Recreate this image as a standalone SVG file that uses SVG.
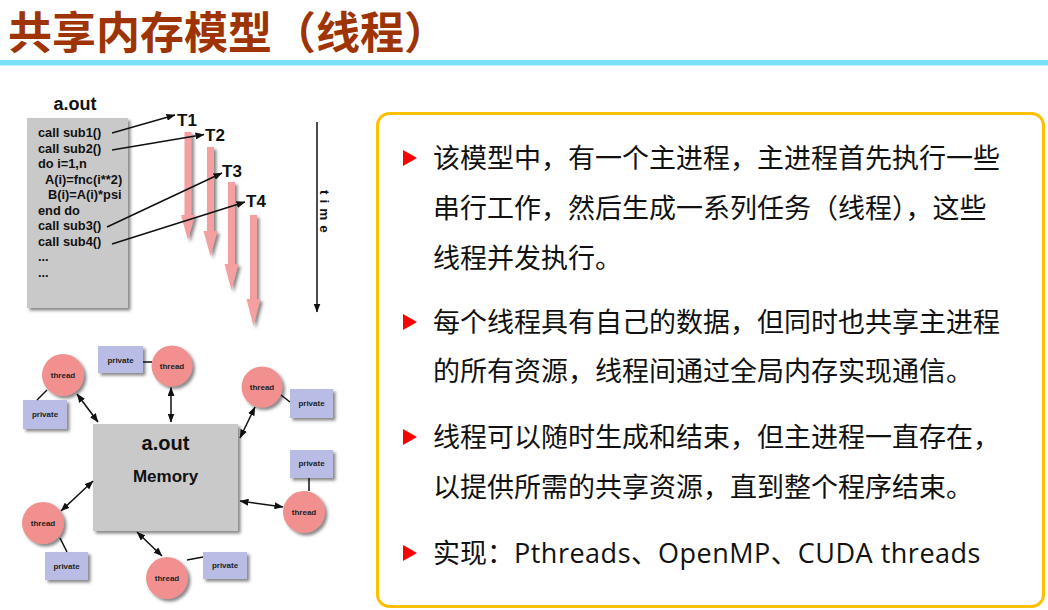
<svg xmlns="http://www.w3.org/2000/svg" width="1048" height="610" viewBox="0 0 1048 610">
  <defs>
    <style>
      .title { font-family: "Noto Sans CJK SC", "Liberation Sans", sans-serif; font-weight: 700; font-size: 44px; fill: #9E3404; }
      .body { font-family: "Noto Sans CJK SC", "Liberation Sans", sans-serif; font-size: 27px; fill: #111; }
      .latin { font-family: "Open Sans", "Noto Sans CJK SC", sans-serif; letter-spacing: 0.5px; }
      .code { font-family: "Liberation Sans", Arial, sans-serif; font-weight: 700; font-size: 12.8px; fill: #111; }
      .lbl { font-family: "Liberation Sans", Arial, sans-serif; font-weight: 700; fill: #111; }
      .tiny { font-family: "Liberation Sans", Arial, sans-serif; font-weight: 700; font-size: 8px; fill: #222; text-anchor: middle; }
      .gray { fill: #C9C9C9; }
      .thread { fill: #F29090; }
      .priv { fill: #B9BDE6; }
      .pink { fill: #F4A0A0; }
      .wire { stroke: #111; stroke-width: 1.5; fill: none; }
      .bullet { fill: #FF0000; }
    </style>
    <filter id="shadow" x="-20%" y="-20%" width="150%" height="150%">
      <feDropShadow dx="2.5" dy="2.5" stdDeviation="1.5" flood-color="#555" flood-opacity="0.7"/>
    </filter>
    <marker id="ah" markerUnits="userSpaceOnUse" markerWidth="9" markerHeight="7" refX="8.5" refY="3.5" orient="auto-start-reverse">
      <path d="M0,0 L9,3.5 L0,7 Z" fill="#111"/>
    </marker>
  </defs>

  <rect width="1048" height="610" fill="#FFFFFF"/>

  <!-- heading -->
  <text class="title" x="8" y="49">共享内存模型（线程）</text>
  <rect x="0" y="60" width="1048" height="5.5" fill="#7BE0FB"/>

  <!-- program listing -->
  <g id="program">
    <text class="lbl" x="75" y="110" font-size="18" text-anchor="middle">a.out</text>
    <rect class="gray" x="27" y="118" width="101" height="190" filter="url(#shadow)"/>
    <text class="code" x="38" y="137">call sub1()</text>
    <text class="code" x="38" y="152.5">call sub2()</text>
    <text class="code" x="38" y="168">do i=1,n</text>
    <text class="code" x="45" y="183.5">A(i)=fnc(i**2)</text>
    <text class="code" x="48" y="199">B(i)=A(i)*psi</text>
    <text class="code" x="38" y="214.5">end do</text>
    <text class="code" x="38" y="230">call sub3()</text>
    <text class="code" x="38" y="245.5">call sub4()</text>
    <text class="code" x="38" y="261">...</text>
    <text class="code" x="38" y="277">...</text>
  </g>

  <!-- thread labels -->
  <g id="t1"><text class="lbl" x="177" y="126" font-size="17">T1</text></g>
  <g id="t2"><text class="lbl" x="205" y="141" font-size="17">T2</text></g>
  <g id="t3"><text class="lbl" x="222" y="177" font-size="17">T3</text></g>
  <g id="t4"><text class="lbl" x="246" y="207" font-size="17">T4</text></g>

  <!-- thread lifetimes -->
  <g id="lifetimes" class="pink" filter="url(#shadow)">
    <path d="M184.5,132 H191.5 V215 H195 L188,240 L181,215 H184.5 Z"/>
    <path d="M207,147 H214 V231 H217.5 L210.5,256 L203.5,231 H207 Z"/>
    <path d="M228,182 H235 V264 H238.5 L231.5,290 L224.5,264 H228 Z"/>
    <path d="M250,215 H257 V299 H260.5 L253.5,326 L246.5,299 H250 Z"/>
  </g>

  <!-- time axis -->
  <g id="time">
    <text class="lbl" font-size="13.5" font-weight="400" letter-spacing="5" transform="translate(320,190) rotate(90)">time</text>
  </g>

  <!-- shared memory -->
  <g id="memory">
    <rect class="gray" x="93" y="424" width="145" height="107" filter="url(#shadow)"/>
    <text class="lbl" x="165.5" y="450" font-size="20" text-anchor="middle">a.out</text>
    <text class="lbl" x="165.5" y="482" font-size="17" text-anchor="middle">Memory</text>
  </g>

  <!-- threads -->
  <g id="thread-nw"><circle class="thread" cx="63" cy="375" r="21" filter="url(#shadow)"/><text class="tiny" x="63" y="378">thread</text></g>
  <g id="thread-n"><circle class="thread" cx="172" cy="366" r="20.5" filter="url(#shadow)"/><text class="tiny" x="172" y="369">thread</text></g>
  <g id="thread-ne"><circle class="thread" cx="262" cy="387" r="20.5" filter="url(#shadow)"/><text class="tiny" x="262" y="390">thread</text></g>
  <g id="thread-e"><circle class="thread" cx="304" cy="512" r="21" filter="url(#shadow)"/><text class="tiny" x="304" y="515">thread</text></g>
  <g id="thread-s"><circle class="thread" cx="167" cy="578" r="21" filter="url(#shadow)"/><text class="tiny" x="167" y="581">thread</text></g>
  <g id="thread-w"><circle class="thread" cx="43" cy="523" r="21" filter="url(#shadow)"/><text class="tiny" x="43" y="526">thread</text></g>

  <!-- private storage -->
  <g id="private-n"><rect class="priv" x="98" y="346" width="45" height="27" filter="url(#shadow)"/><text class="tiny" x="120.5" y="362.5">private</text></g>
  <g id="private-nw"><rect class="priv" x="23" y="400" width="44" height="29" filter="url(#shadow)"/><text class="tiny" x="45" y="417">private</text></g>
  <g id="private-ne"><rect class="priv" x="290" y="389" width="43" height="29" filter="url(#shadow)"/><text class="tiny" x="311.5" y="406">private</text></g>
  <g id="private-e"><rect class="priv" x="290" y="450" width="43" height="28" filter="url(#shadow)"/><text class="tiny" x="311.5" y="466">private</text></g>
  <g id="private-w"><rect class="priv" x="45" y="552" width="43" height="28" filter="url(#shadow)"/><text class="tiny" x="66.5" y="569">private</text></g>
  <g id="private-s"><rect class="priv" x="203" y="552" width="44" height="27" filter="url(#shadow)"/><text class="tiny" x="225" y="568">private</text></g>

  <!-- connectors -->
  <g id="connectors" class="wire">
    <!-- calls spawning threads -->
    <line x1="112" y1="133" x2="175" y2="115" marker-end="url(#ah)"/>
    <line x1="112" y1="150" x2="204" y2="134.5" marker-end="url(#ah)"/>
    <line x1="107" y1="227" x2="222" y2="173" marker-end="url(#ah)"/>
    <line x1="112" y1="244" x2="245" y2="202" marker-end="url(#ah)"/>
    <!-- time axis -->
    <line x1="317" y1="122" x2="317" y2="312" marker-end="url(#ah)"/>
    <!-- thread to shared memory -->
    <line x1="77" y1="394" x2="98" y2="422" marker-start="url(#ah)" marker-end="url(#ah)"/>
    <line x1="171" y1="387.5" x2="171" y2="422" marker-start="url(#ah)" marker-end="url(#ah)"/>
    <line x1="255" y1="407" x2="240" y2="438" marker-start="url(#ah)" marker-end="url(#ah)"/>
    <line x1="283" y1="507" x2="240" y2="501" marker-start="url(#ah)" marker-end="url(#ah)"/>
    <line x1="162" y1="556" x2="137" y2="532" marker-start="url(#ah)" marker-end="url(#ah)"/>
    <line x1="61" y1="511" x2="93" y2="481" marker-start="url(#ah)" marker-end="url(#ah)"/>
    <!-- thread to private -->
    <line x1="143" y1="362" x2="152" y2="362"/>
    <line x1="47" y1="390" x2="37" y2="400"/>
    <line x1="281" y1="395" x2="290" y2="402"/>
    <line x1="309" y1="478" x2="309" y2="491"/>
    <line x1="60" y1="538" x2="67" y2="552"/>
    <line x1="187" y1="560" x2="203" y2="557"/>
  </g>

  <!-- description panel -->
  <g id="panel">
    <rect x="377.5" y="113.5" width="666" height="493" rx="12" fill="#FFFFFF" stroke="#FFC000" stroke-width="3"/>
    <path class="bullet" d="M403,150 L417,158 L403,166 Z"/>
    <text class="body" x="433" y="168">该模型中，有一个主进程，主进程首先执行一些</text>
    <text class="body" x="433" y="218">串行工作，然后生成一系列任务（线程），这些</text>
    <text class="body" x="433" y="268">线程并发执行。</text>
    <path class="bullet" d="M403,314 L417,322 L403,330 Z"/>
    <text class="body" x="433" y="332">每个线程具有自己的数据，但同时也共享主进程</text>
    <text class="body" x="433" y="381">的所有资源，线程间通过全局内存实现通信。</text>
    <path class="bullet" d="M403,429 L417,437 L403,445 Z"/>
    <text class="body" x="433" y="447">线程可以随时生成和结束，但主进程一直存在，</text>
    <text class="body" x="433" y="497">以提供所需的共享资源，直到整个程序结束。</text>
    <path class="bullet" d="M403,545 L417,553 L403,561 Z"/>
    <text class="body" x="433" y="563">实现：<tspan class="latin">Pthreads</tspan>、<tspan class="latin">OpenMP</tspan>、<tspan class="latin">CUDA threads</tspan></text>
  </g>
</svg>
